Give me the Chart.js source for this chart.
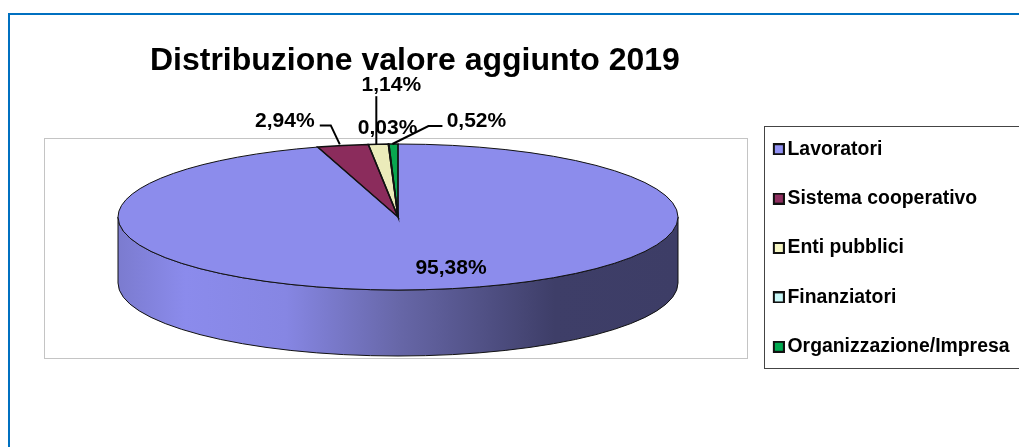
<!DOCTYPE html>
<html>
<head>
<meta charset="utf-8">
<title>Distribuzione valore aggiunto 2019</title>
<script src="https://cdn.jsdelivr.net/npm/chart.js@4"></script>
<style>
    html, body { margin: 0; padding: 0; background: #fff; overflow: hidden; }
    canvas { display: block; }
</style>
</head>
<body>
<canvas id="chart" width="1019" height="447"></canvas>
<script>
const categories = ['Lavoratori', 'Sistema cooperativo', 'Enti pubblici', 'Finanziatori', 'Organizzazione/Impresa'];
const values = [95.38, 2.94, 1.14, 0.03, 0.52];
const sliceColors = ['#8c8cec', '#8b2c5c', '#ebebba', '#c4f0f0', '#09a650'];
const swatchColors = ['#9292f4', '#8f2f60', '#f6f6c4', '#c8f8f8', '#00aa50'];

const FONT = '"Liberation Sans", Arial, sans-serif';

// the pie is a flat Chart.js pie squashed into an ellipse on top of a drum
const pie = { x: 398, y: 217, radius: 280, tilt: 73 / 280, depth: 66 };

// distance of each label from the pie centre (first) or the rim point of its slice
const labelPlacement = [
    { dx: 53, dy: 51 },
    { dx: -58, dy: -24 },
    { dx: 13, dy: -59 },
    { dx: -1, dy: -16 },
    { dx: 83, dy: -23 }
];
// leader polylines, relative to the rim point
const leaders = [
    null,
    [[-3, -1], [-12, -20], [-23, -20]],
    [[-2, 0], [-2, -48]],
    null,
    [[-1, 0], [35, -18], [49, -18]]
];

// transparent strip on the left pulls the marker closer to the legend text
function swatch(color) {
    const c = document.createElement('canvas');
    c.width = 16;
    c.height = 12;
    const g = c.getContext('2d');
    g.fillStyle = '#111';
    g.fillRect(4, 0, 12, 12);
    g.fillStyle = color;
    g.fillRect(6, 2, 8, 8);
    return c;
}

function project(ctx, arc) {
    ctx.translate(pie.x, pie.y);
    ctx.scale(1, pie.tilt);
    ctx.translate(-arc.x, -arc.y);
}

function rimPoint(arc) {
    const mid = (arc.startAngle + arc.endAngle) / 2;
    return {
        x: pie.x + Math.cos(mid) * arc.outerRadius,
        y: pie.y + Math.sin(mid) * arc.outerRadius * pie.tilt
    };
}

function drawWall(ctx, arc) {
    const r = arc.outerRadius;
    const ry = r * pie.tilt;
    const grad = ctx.createLinearGradient(pie.x - r, 0, pie.x + r, 0);
    grad.addColorStop(0, '#7b7bcf');
    grad.addColorStop(0.12, '#8b8bec');
    grad.addColorStop(0.3, '#8686e3');
    grad.addColorStop(0.5, '#6767a8');
    grad.addColorStop(0.78, '#3e3e68');
    grad.addColorStop(1, '#3d3d66');

    ctx.beginPath();
    ctx.ellipse(pie.x, pie.y, r, ry, 0, Math.PI, 0, true);
    ctx.lineTo(pie.x + r, pie.y + pie.depth);
    ctx.ellipse(pie.x, pie.y + pie.depth, r, ry, 0, 0, Math.PI);
    ctx.closePath();
    ctx.fillStyle = grad;
    ctx.fill();
    ctx.strokeStyle = '#111';
    ctx.lineWidth = 1;
    ctx.stroke();
}

const framePlugin = {
    id: 'frames',
    beforeDraw(chart) {
        const ctx = chart.ctx;
        ctx.save();
        ctx.strokeStyle = '#0070c0';
        ctx.lineWidth = 2;
        ctx.strokeRect(9, 14, 1100, 500);
        ctx.strokeStyle = '#c4c4c4';
        ctx.lineWidth = 1;
        ctx.strokeRect(44.5, 138.5, 703, 220);
        ctx.strokeStyle = '#444';
        ctx.strokeRect(764.5, 126.5, 300, 242);
        ctx.restore();
    }
};

const drumPlugin = {
    id: 'drum',
    beforeDatasetsDraw(chart) {
        const ctx = chart.ctx;
        const arcs = chart.getDatasetMeta(0).data;
        drawWall(ctx, arcs[0]);
        ctx.save();
        project(ctx, arcs[0]);
    },
    afterDatasetsDraw(chart) {
        const ctx = chart.ctx;
        const arcs = chart.getDatasetMeta(0).data;
        ctx.restore();

        // outlines are stroked after the squash is undone so the width stays even
        arcs.forEach((arc, i) => {
            ctx.save();
            project(ctx, arc);
            ctx.beginPath();
            ctx.moveTo(arc.x, arc.y);
            ctx.arc(arc.x, arc.y, arc.outerRadius, arc.startAngle, arc.endAngle);
            ctx.closePath();
            ctx.restore();
            ctx.strokeStyle = '#111';
            ctx.lineWidth = i === 0 ? 1 : 1.5;
            ctx.stroke();
        });

        ctx.save();
        ctx.font = 'bold 21px ' + FONT;
        ctx.fillStyle = '#000';
        ctx.textAlign = 'center';
        ctx.textBaseline = 'middle';
        arcs.forEach((arc, i) => {
            const rim = rimPoint(arc);
            const text = values[i].toFixed(2).replace('.', ',') + '%';
            const place = labelPlacement[i];
            const anchor = i === 0 ? { x: pie.x, y: pie.y } : rim;
            ctx.fillText(text, anchor.x + place.dx, anchor.y + place.dy);
            if (leaders[i]) {
                ctx.beginPath();
                leaders[i].forEach(p => ctx.lineTo(rim.x + p[0], rim.y + p[1]));
                ctx.strokeStyle = '#000';
                ctx.lineWidth = 2;
                ctx.stroke();
            }
        });
        ctx.restore();
    }
};

new Chart(document.getElementById('chart'), {
    type: 'pie',
    data: {
        labels: categories,
        datasets: [{
            data: values,
            backgroundColor: sliceColors,
            borderWidth: 0,
            clip: false
        }]
    },
    options: {
        responsive: false,
        animation: false,
        radius: pie.radius,
        layout: { padding: { top: 49, left: 84, right: -0.5, bottom: 0 } },
        plugins: {
            tooltip: { enabled: false },
            title: {
                display: true,
                text: 'Distribuzione valore aggiunto 2019',
                fullSize: false,
                color: '#000',
                font: { family: FONT, size: 32, weight: 'bold' },
                padding: { top: -7, bottom: 0 }
            },
            legend: {
                position: 'right',
                labels: {
                    color: '#000',
                    font: { family: FONT, size: 19.4, weight: 'bold' },
                    usePointStyle: true,
                    pointStyleWidth: 2,
                    padding: 30,
                    generateLabels(chart) {
                        return categories.map((name, i) => ({
                            text: name,
                            index: i,
                            pointStyle: swatch(swatchColors[i]),
                            fillStyle: swatchColors[i],
                            strokeStyle: '#111',
                            lineWidth: 0
                        }));
                    }
                }
            }
        }
    },
    plugins: [framePlugin, drumPlugin]
});
</script>
</body>
</html>
